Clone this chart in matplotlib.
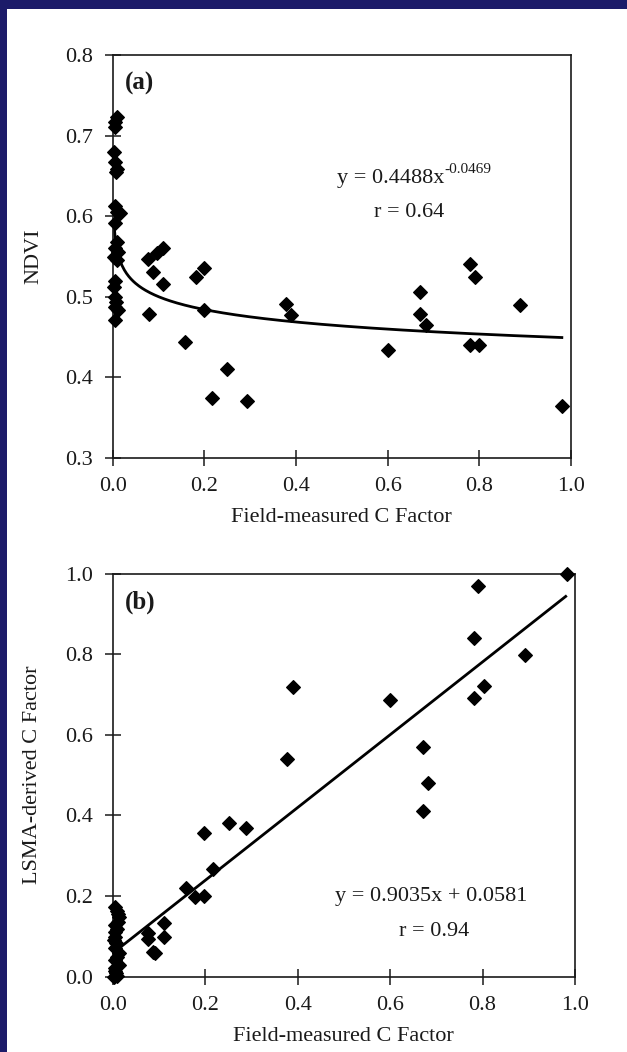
"""Field-measured C factor vs NDVI and LSMA-derived C factor."""
import matplotlib
matplotlib.use("Agg")
import matplotlib.pyplot as plt
import numpy as np
from matplotlib.patches import Rectangle

plt.rcParams.update({"font.family": ["Liberation Serif", "DejaVu Serif"],
                     "font.size": 16,
                     "text.color": "#1a1a1a", "axes.labelcolor": "#1a1a1a",
                     "xtick.color": "#1a1a1a", "ytick.color": "#1a1a1a"})

# ---- panel (a): field C factor vs NDVI
a_x = [0.009, 0.006, 0.004, 0.003, 0.005, 0.010, 0.007, 0.005, 0.010, 0.015,
       0.004, 0.009, 0.003, 0.009, 0.005, 0.003, 0.005, 0.008, 0.011, 0.006,
       0.005, 0.012, 0.004,
       0.078, 0.096, 0.110, 0.087, 0.110, 0.182, 0.200, 0.080, 0.199, 0.378,
       0.390, 0.158, 0.250, 0.216, 0.293, 0.600, 0.671, 0.671, 0.684, 0.780,
       0.791, 0.780, 0.800, 0.889, 0.980]
a_y = [0.723, 0.711, 0.717, 0.680, 0.667, 0.659, 0.655, 0.612, 0.605, 0.604,
       0.591, 0.568, 0.549, 0.545, 0.520, 0.512, 0.500, 0.493, 0.483, 0.487,
       0.471, 0.556, 0.560,
       0.547, 0.554, 0.560, 0.531, 0.516, 0.524, 0.535, 0.479, 0.483, 0.491,
       0.477, 0.444, 0.410, 0.374, 0.371, 0.434, 0.506, 0.479, 0.465, 0.541,
       0.524, 0.440, 0.440, 0.490, 0.364]
a_coef, a_exp = 0.4488, -0.0469
a_fit_range = (0.0033, 0.98)

# ---- panel (b): field C factor vs LSMA-derived C factor
b_x = [0.005, 0.010, 0.013, 0.004, 0.010, 0.004, 0.008, 0.004, 0.013, 0.006,
       0.013, 0.004, 0.008, 0.003, 0.010, 0.012, 0.005, 0.009, 0.006, 0.003,
       0.011,
       0.077, 0.077, 0.088, 0.092, 0.110, 0.110, 0.159, 0.178, 0.198, 0.198,
       0.216, 0.252, 0.288, 0.378, 0.389, 0.600, 0.672, 0.672, 0.683, 0.781,
       0.781, 0.791, 0.804, 0.892, 0.982]
b_y = [0.174, 0.164, 0.149, 0.128, 0.118, 0.099, 0.084, 0.070, 0.058, 0.041,
       0.029, 0.021, 0.008, 0.000, 0.002, 0.155, 0.110, 0.050, 0.015, 0.090,
       0.135,
       0.108, 0.093, 0.060, 0.058, 0.134, 0.099, 0.219, 0.197, 0.200, 0.356,
       0.266, 0.382, 0.368, 0.540, 0.720, 0.687, 0.571, 0.412, 0.480, 0.841,
       0.691, 0.970, 0.721, 0.798, 1.000]
b_slope, b_icpt = 0.9035, 0.0581
b_fit_range = (0.012, 0.98)

fig = plt.figure(figsize=(6.27, 10.52), dpi=100)
fig.patch.set_facecolor("#1c1b69")
fig.add_artist(Rectangle((7 / 627, 0), 1, 1 - 9 / 1052, transform=fig.transFigure,
                         facecolor="white", edgecolor="none", zorder=-10))

ax1 = fig.add_axes([0.1797, 0.5649, 0.731, 0.3828])
ax2 = fig.add_axes([0.1797, 0.0716, 0.7373, 0.3831])

for ax in (ax1, ax2):
    for s in ax.spines.values():
        s.set_linewidth(1.2)
        s.set_color("#1a1a1a")
    ax.tick_params(direction="inout", length=12, width=1.1, pad=8,
                   top=False, right=False)
    ax.set_xlim(0, 1)
    ax.set_xticks(np.arange(0, 1.01, 0.2))
    ax.xaxis.set_major_formatter(matplotlib.ticker.FormatStrFormatter("%.1f"))
    ax.yaxis.set_major_formatter(matplotlib.ticker.FormatStrFormatter("%.1f"))
    ax.set_xlabel("Field-measured C Factor")
    ax.xaxis.set_label_coords(0.5, -0.125)
    ax.yaxis.set_label_coords(-0.152, 0.5)

# (a)
ax1.scatter(a_x, a_y, marker="D", s=48, color="black", zorder=3, clip_on=False)
xs = np.linspace(*a_fit_range, 400)
ax1.plot(xs, a_coef * xs ** a_exp, color="black", lw=2)
ax1.set_ylim(0.3, 0.8)
ax1.set_yticks(np.arange(0.3, 0.81, 0.1))
ax1.set_ylabel("NDVI")
ax1.text(0.027, 0.93, "(a)", transform=ax1.transAxes, fontsize=18,
         fontweight="bold", va="center")
eq = ax1.text(0.490, 0.693, "y = 0.4488x", transform=ax1.transAxes,
              ha="left", va="center")
ax1.annotate("-0.0469", xy=(1, 0.62), xycoords=eq, fontsize=11,
             ha="left", va="bottom")
ax1.text(0.647, 0.608, "r = 0.64", transform=ax1.transAxes,
         ha="center", va="center")

# (b)
ax2.scatter(b_x, b_y, marker="D", s=48, color="black", zorder=3, clip_on=False)
xs = np.linspace(*b_fit_range, 2)
ax2.plot(xs, b_slope * xs + b_icpt, color="black", lw=2)
ax2.set_ylim(0, 1)
ax2.set_yticks(np.arange(0, 1.01, 0.2))
ax2.set_ylabel("LSMA-derived C Factor")
ax2.text(0.027, 0.93, "(b)", transform=ax2.transAxes, fontsize=18,
         fontweight="bold", va="center")
ax2.text(0.688, 0.198, "y = 0.9035x + 0.0581", transform=ax2.transAxes,
         ha="center", va="center")
ax2.text(0.696, 0.111, "r = 0.94", transform=ax2.transAxes,
         ha="center", va="center")

fig.savefig("out.png", dpi=100, facecolor=fig.get_facecolor())
